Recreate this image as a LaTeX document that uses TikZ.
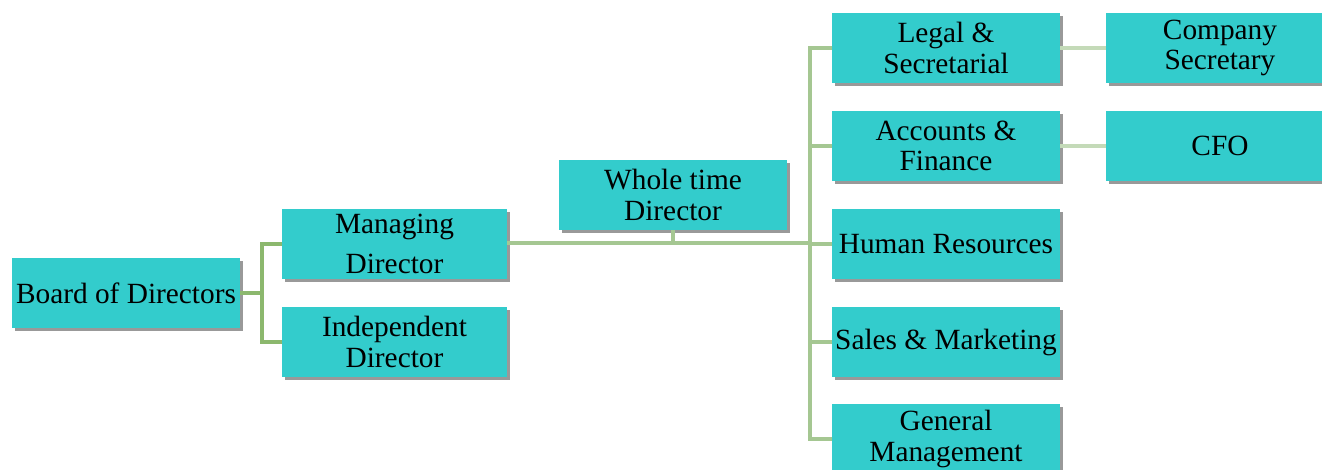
\documentclass[tikz,border=0pt]{standalone}
\usepackage{fontspec}
\setmainfont{Liberation Serif}
\usetikzlibrary{shadows}
\definecolor{boxfill}{RGB}{51,204,204}
\definecolor{lineA}{RGB}{140,184,110}
\definecolor{lineB}{RGB}{165,199,146}
\definecolor{lineC}{RGB}{196,218,184}
\begin{document}
\begin{tikzpicture}[x=0.75pt,y=-0.75pt,
  box/.style={fill=boxfill, minimum width=171pt, minimum height=52.5pt, inner sep=0pt,
    align=center, font=\fontsize{22}{23}\selectfont,
    drop shadow={shadow xshift=2pt, shadow yshift=-2pt, fill=black, opacity=0.4}},
  narrow/.style={minimum width=169pt},
  connA/.style={draw=lineA, line width=2.6pt},
  connB/.style={draw=lineB, line width=2.6pt},
  connC/.style={draw=lineC, line width=2.6pt}]
\useasboundingbox (0,0) rectangle (1322,470);
\coordinate (j1) at (262,293);
\coordinate (j2) at (810,243);
\node[box] (board) at (126,293) {Board of Directors};
\node[box,narrow] (md) at (394.5,244) {Managing\\[7pt]Director};
\node[box,narrow] (id) at (394.5,342) {Independent\\Director};
\node[box] (wtd) at (673,195) {Whole time\\Director};
\node[box] (legal) at (946,48) {Legal \&\\Secretarial};
\node[box] (acc) at (946,146) {Accounts \&\\Finance};
\node[box] (hr) at (946,244) {Human Resources};
\node[box] (sales) at (946,342) {Sales \& Marketing};
\node[box] (gm) at (946,439) {General\\Management};
\node[box] (cs) at (1220,48) {Company\\Secretary};
\node[box] (cfo) at (1220,146) {CFO};
\draw[connA] (board.east) -- (j1);
\draw[connA] (j1) |- (md.west);
\draw[connA] (j1) |- (id.west);
\draw[connB] (md.east |- j2) -- (j2);
\draw[connB] (wtd.south) -- (wtd.south |- j2);
\draw[connB] (j2) |- (legal.west);
\draw[connB] (j2) |- (acc.west);
\draw[connB] (j2) |- (hr.west);
\draw[connB] (j2) |- (sales.west);
\draw[connB] (j2) |- (gm.west);
\draw[connC] (legal.east) -- (cs.west);
\draw[connC] (acc.east) -- (cfo.west);
\end{tikzpicture}
\end{document}
